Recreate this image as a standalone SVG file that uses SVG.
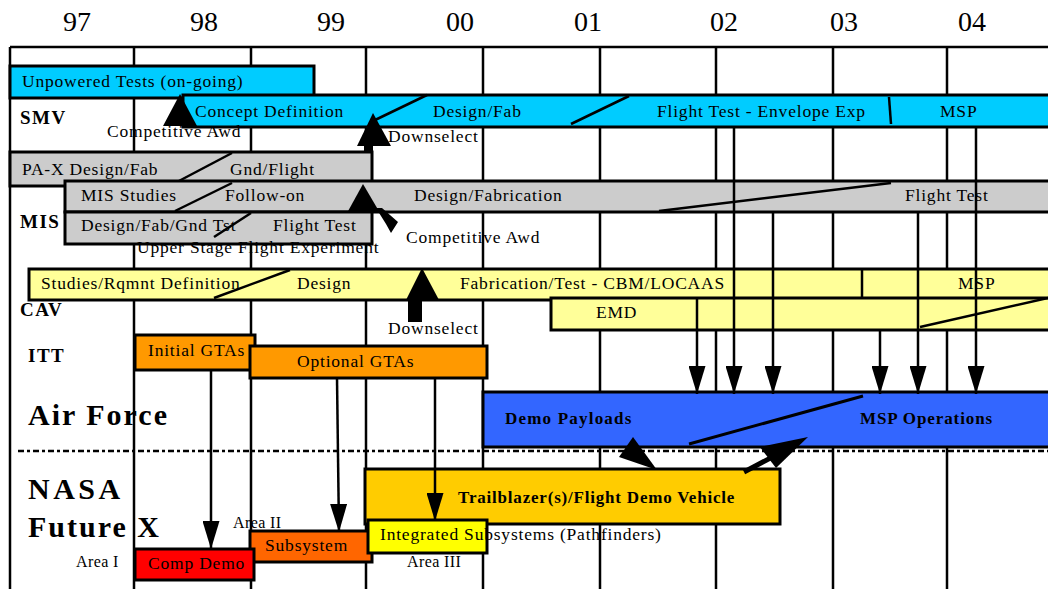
<svg xmlns="http://www.w3.org/2000/svg" width="1048" height="589" viewBox="0 0 1048 589">
<style>
.t{font-family:"Liberation Serif","Times New Roman",serif;font-size:17.5px;letter-spacing:0.8px;fill:#000}
.yr{font-family:"Liberation Serif","Times New Roman",serif;font-size:28px;fill:#000}
.lb{font-family:"Liberation Serif","Times New Roman",serif;font-weight:bold;font-size:19px;letter-spacing:1.5px;fill:#000}
.big{font-family:"Liberation Serif","Times New Roman",serif;font-weight:bold;font-size:30px;fill:#000}
.bt{font-family:"Liberation Serif","Times New Roman",serif;font-weight:bold;font-size:17px;fill:#000}
.sm{font-family:"Liberation Serif","Times New Roman",serif;font-size:16px;letter-spacing:0.4px;fill:#000}
.bar{stroke:#000;stroke-width:3}
.grid{stroke:#000;stroke-width:2.5;fill:none}
.dv{stroke:#000;stroke-width:2.5;fill:none}
.conn{stroke:#000;stroke-width:2.5;fill:none}
.mk{fill:#000}
</style>
<defs>
<marker id="ah" viewBox="0 0 28 17" refX="28" refY="8.5" markerWidth="28" markerHeight="17" markerUnits="userSpaceOnUse" orient="auto"><path d="M0,0 L28,8.5 L0,17 Z" fill="#000"/></marker>
</defs>
<rect width="1048" height="589" fill="#fff"/>
<g id="years">
<text class="yr" x="63" y="31">97</text>
<text class="yr" x="190" y="31">98</text>
<text class="yr" x="317" y="31">99</text>
<text class="yr" x="446" y="31">00</text>
<text class="yr" x="574" y="31">01</text>
<text class="yr" x="710" y="31">02</text>
<text class="yr" x="830" y="31">03</text>
<text class="yr" x="958" y="31">04</text>
</g>
<g id="grid">
<line class="grid" x1="10" y1="47" x2="1048" y2="47"/>
<line class="grid" x1="10" y1="47" x2="10" y2="589"/>
<line class="grid" x1="134" y1="47" x2="134" y2="589"/>
<line class="grid" x1="251" y1="47" x2="251" y2="589"/>
<line class="grid" x1="366" y1="47" x2="366" y2="589"/>
<line class="grid" x1="483" y1="47" x2="483" y2="589"/>
<line class="grid" x1="600" y1="47" x2="600" y2="589"/>
<line class="grid" x1="716" y1="47" x2="716" y2="589"/>
<line class="grid" x1="833" y1="47" x2="833" y2="589"/>
<line class="grid" x1="947" y1="47" x2="947" y2="589"/>
</g>
<g id="row-labels">
<text class="lb" x="20" y="124">SMV</text>
<text class="lb" x="20" y="228">MIS</text>
<text class="lb" x="20" y="316">CAV</text>
<text class="lb" x="28" y="362">ITT</text>
<text class="big" x="28" y="425" letter-spacing="2">Air Force</text>
<text class="big" x="28" y="499" letter-spacing="3.5">NASA</text>
<text class="big" x="28" y="537" letter-spacing="2">Future X</text>
</g>
<g id="smv-unpowered">
<rect class="bar" x="10" y="66" width="304" height="32" fill="#00CCFF"/>
<text class="t" x="22" y="87">Unpowered Tests (on-going)</text>
</g>
<g id="smv-main">
<rect class="bar" x="183" y="95" width="870" height="32" fill="#00CCFF"/>
<line class="dv" x1="427" y1="95" x2="373" y2="121"/>
<line class="dv" x1="629" y1="96" x2="571" y2="124"/>
<line class="dv" x1="889" y1="97" x2="891" y2="124"/>
<text class="t" x="195" y="117">Concept Definition</text>
<text class="t" x="433" y="117">Design/Fab</text>
<text class="t" x="657" y="117">Flight Test - Envelope Exp</text>
<text class="t" x="940" y="117">MSP</text>
</g>
<g id="smv-competitive-awd">
<text class="t" x="107" y="137">Competitive Awd</text>
<polygon class="mk" points="180,94 197,126 163,126"/>
</g>
<g id="smv-downselect">
<polygon class="mk" points="373,113 391,146 357,146"/>
<rect class="mk" x="364" y="145" width="9" height="8"/>
<text class="t" x="388" y="142">Downselect</text>
</g>
<g id="pax">
<rect class="bar" x="10" y="152" width="362" height="34" fill="#CCCCCC"/>
<line class="dv" x1="232" y1="153" x2="177" y2="182"/>
<text class="t" x="22" y="175">PA-X Design/Fab</text>
<text class="t" x="230" y="175">Gnd/Flight</text>
</g>
<g id="mis-main">
<rect class="bar" x="65" y="181" width="990" height="31" fill="#CCCCCC"/>
<line class="dv" x1="232" y1="183" x2="175" y2="211"/>
<line class="dv" x1="891" y1="183" x2="659" y2="211"/>
<text class="t" x="81" y="201">MIS Studies</text>
<text class="t" x="225" y="201">Follow-on</text>
<text class="t" x="414" y="201">Design/Fabrication</text>
<text class="t" x="905" y="201">Flight Test</text>
</g>
<g id="mis-upper-stage">
<rect class="bar" x="65" y="212" width="307" height="32" fill="#CCCCCC"/>
<line class="dv" x1="251" y1="213" x2="214" y2="237"/>
<text class="t" x="81" y="231">Design/Fab/Gnd Tst</text>
<text class="t" x="273" y="231">Flight Test</text>
<text class="t" x="137" y="253">Upper Stage Flight Experiment</text>
</g>
<g id="mis-competitive-awd">
<polygon class="mk" points="363,184 380,213 347,213"/>
<polygon class="mk" points="376,208 382,208 398,222 391,233 386,224"/>
<text class="t" x="406" y="243">Competitive Awd</text>
</g>
<g id="cav-main">
<rect class="bar" x="29" y="269" width="1025" height="31" fill="#FFFF99"/>
<line class="dv" x1="290" y1="270" x2="214" y2="298"/>
<line class="dv" x1="862" y1="269" x2="862" y2="300"/>
<text class="t" x="41" y="289">Studies/Rqmnt Definition</text>
<text class="t" x="297" y="289">Design</text>
<text class="t" x="460" y="289">Fabrication/Test - CBM/LOCAAS</text>
<text class="t" x="958" y="289">MSP</text>
</g>
<g id="cav-emd">
<rect class="bar" x="551" y="298" width="503" height="32" fill="#FFFF99"/>
<line class="dv" x1="1048" y1="298" x2="920" y2="327"/>
<text class="t" x="596" y="318">EMD</text>
</g>
<g id="cav-downselect">
<polygon class="mk" points="422,268 439,300 406,300"/>
<rect class="mk" x="408" y="299" width="14" height="23"/>
<text class="t" x="388" y="334">Downselect</text>
</g>
<g id="itt-initial">
<rect class="bar" x="135" y="335" width="120" height="35" fill="#FF9900"/>
<text class="t" x="148" y="356">Initial GTAs</text>
</g>
<g id="itt-optional">
<rect class="bar" x="250" y="346" width="237" height="32" fill="#FF9900"/>
<text class="t" x="297" y="367">Optional GTAs</text>
</g>
<g id="af-msp">
<rect class="bar" x="483" y="392" width="570" height="55" fill="#3366FF"/>
<line x1="863" y1="396" x2="689" y2="444" stroke="#000" stroke-width="3"/>
<text class="bt" x="505" y="424" letter-spacing="1.2">Demo Payloads</text>
<text class="bt" x="860" y="424" letter-spacing="0.9">MSP Operations</text>
</g>
<line id="divider" x1="18" y1="451" x2="1048" y2="451" stroke="#000" stroke-width="2.5" stroke-dasharray="6,3,3,3"/>
<g id="trailblazer">
<rect class="bar" x="365" y="469" width="415" height="55" fill="#FFCC00"/>
<text class="bt" x="458" y="503" letter-spacing="0.8">Trailblazer(s)/Flight Demo Vehicle</text>
</g>
<g id="subsystem">
<rect class="bar" x="250" y="531" width="122" height="31" fill="#FF6600"/>
<text class="t" x="265" y="551">Subsystem</text>
</g>
<g id="comp-demo">
<rect class="bar" x="135" y="549" width="119" height="31" fill="#FF0000"/>
<text class="t" x="148" y="569">Comp Demo</text>
</g>
<g id="integrated">
<rect class="bar" x="368" y="520" width="119" height="33" fill="#FFFF00"/>
<text class="t" x="380" y="540">Integrated Subsystems (Pathfinders)</text>
</g>
<g id="area-labels">
<text class="sm" x="76" y="567">Area I</text>
<text class="sm" x="233" y="528">Area II</text>
<text class="sm" x="407" y="567">Area III</text>
</g>
<g id="connectors">
<line class="conn" x1="697" y1="298" x2="697" y2="394" marker-end="url(#ah)"/>
<line class="conn" x1="734" y1="127" x2="734" y2="394" marker-end="url(#ah)"/>
<line class="conn" x1="773" y1="212" x2="773" y2="394" marker-end="url(#ah)"/>
<line class="conn" x1="880" y1="330" x2="880" y2="394" marker-end="url(#ah)"/>
<line class="conn" x1="918" y1="212" x2="918" y2="394" marker-end="url(#ah)"/>
<line class="conn" x1="976" y1="127" x2="976" y2="394" marker-end="url(#ah)"/>
<line class="conn" x1="211" y1="370" x2="211" y2="549" marker-end="url(#ah)"/>
<line class="conn" x1="337" y1="378" x2="339" y2="532" marker-end="url(#ah)"/>
<line class="conn" x1="435" y1="378" x2="435" y2="521" marker-end="url(#ah)"/>
<polygon class="mk" points="633,437 619,457 657,470"/>
<line x1="744" y1="472" x2="778" y2="454" stroke="#000" stroke-width="5"/>
<polygon class="mk" points="760,447 776,468 808,437"/>
</g>
</svg>
